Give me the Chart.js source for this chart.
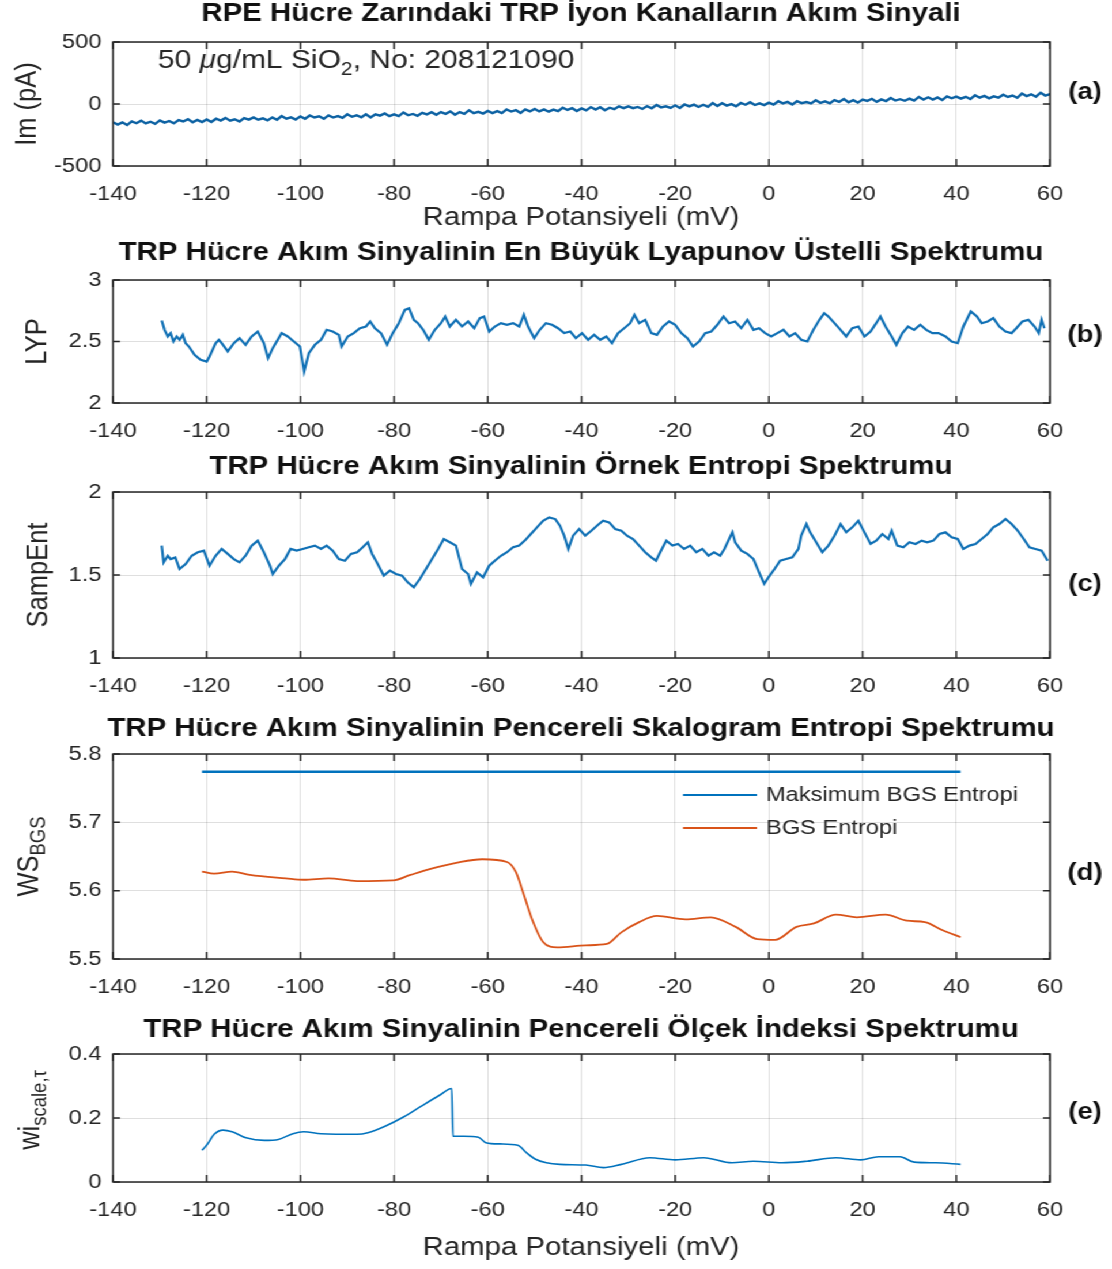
<!DOCTYPE html>
<html>
<head>
<meta charset="utf-8">
<script src="https://cdn.jsdelivr.net/npm/chart.js@4.4.1/dist/chart.umd.min.js"></script>
<style>
  html, body { margin: 0; padding: 0; background: #fff; overflow: hidden; }
  #sheet { position: absolute; left: 0; top: 0; height: 1269px; transform-origin: 0 0; }
</style>
</head>
<body>
<div id="sheet"></div>
<script>
// the reference figure is stretched sideways, so the page is drawn narrow and scaled in x
const PAGE_W = 965;
const SX = 1112 / PAGE_W;
const ux = v => v / SX;

// ---- data ----
const xMin = -140, xMax = 60, xStep = 20;

// (a) membrane current, one sample per mV starting at -140
const imStart = -140;
const imValues = [
  -147, -166, -148, -170, -140, -155, -134, -157, -143, -160,
  -132, -150, -137, -156, -130, -141, -122, -147, -128, -146,
  -125, -145, -119, -134, -112, -135, -123, -141, -113, -126,
  -108, -127, -116, -132, -108, -127, -97, -119, -108, -125,
  -100, -119, -93, -109, -99, -120, -92, -109, -98, -112,
  -83, -103, -91, -107, -83, -109, -84, -94, -76, -98,
  -83, -98, -68, -91, -80, -95, -71, -84, -66, -87,
  -65, -79, -60, -87, -65, -79, -50, -74, -63, -77,
  -56, -73, -58, -74, -44, -61, -50, -72, -44, -60,
  -40, -60, -44, -62, -45, -58, -30, -48, -34, -57,
  -36, -52, -25, -45, -26, -51, -30, -42, -19, -34,
  -19, -34, -24, -40, -17, -34, -8, -27, -19, -32,
  -11, -32, -4, -19, -5, -24, -6, -23, 7, -16,
  6, -13, -1, -19, 8, -6, 14, -8, 5, -9,
  11, -5, 22, 5, 17, -4, 22, 7, 16, 5,
  30, 9, 21, 6, 31, 17, 40, 14, 31, 11,
  36, 25, 42, 17, 37, 24, 49, 28, 39, 26,
  43, 27, 57, 36, 54, 35, 53, 32, 61, 46,
  60, 43, 58, 40, 70, 51, 65, 46, 62, 51,
  75, 57, 68, 50, 84, 64, 78, 59, 91, 68, 79
];

// (b) largest Lyapunov exponent
const lypX = [-129.6, -129.0, -128.3, -127.7, -127.1, -126.4, -125.8, -125.1, -124.5, -123.8,
  -122.6, -121.3, -120.0, -119.4, -118.1, -117.4, -116.8, -115.5, -114.2, -113.0,
  -111.7, -110.4, -109.1, -107.8, -106.9, -105.9, -104.0, -102.7, -101.4, -100.1,
  -99.2, -98.2, -96.9, -95.6, -94.4, -93.1, -91.8, -91.2, -89.9, -88.6,
  -87.3, -86.0, -85.1, -84.1, -82.8, -81.5, -80.3, -79.0, -77.7, -76.8,
  -75.8, -74.9, -73.8, -72.6, -71.3, -70.0, -69.1, -68.1, -66.8, -65.5,
  -64.2, -62.9, -61.7, -60.8, -59.7, -58.5, -57.2, -55.9, -54.6, -53.3,
  -52.3, -51.4, -50.1, -48.9, -47.6, -46.3, -45.0, -43.7, -42.4, -41.2,
  -39.9, -38.6, -37.3, -36.0, -34.7, -33.5, -32.2, -30.9, -29.6, -28.7,
  -27.7, -26.4, -25.1, -23.9, -22.6, -21.3, -20.0, -18.7, -17.4, -16.2,
  -14.9, -13.6, -12.3, -11.0, -9.7, -8.5, -7.2, -5.9, -4.6, -3.3,
  -2.1, -0.8, 0.5, 1.8, 3.1, 4.4, 5.6, 6.9, 8.2, 9.5,
  10.8, 11.8, 12.7, 14.0, 15.3, 16.5, 17.8, 19.1, 20.4, 21.7,
  22.9, 23.8, 24.9, 26.2, 27.2, 28.5, 29.7, 31.0, 32.3, 33.6,
  34.9, 36.2, 37.7, 39.0, 40.3, 41.5, 43.1, 44.4, 45.4, 46.7,
  47.9, 49.2, 50.5, 51.8, 52.8, 54.1, 55.4, 56.7, 57.6, 58.2, 58.8];
const lypY = [2.671, 2.595, 2.541, 2.568, 2.500, 2.541, 2.514, 2.554, 2.486, 2.459,
  2.392, 2.351, 2.337, 2.378, 2.486, 2.514, 2.486, 2.419, 2.486, 2.527,
  2.473, 2.541, 2.581, 2.486, 2.364, 2.446, 2.568, 2.541, 2.500, 2.459,
  2.256, 2.405, 2.473, 2.514, 2.595, 2.581, 2.554, 2.459, 2.541, 2.568,
  2.608, 2.622, 2.663, 2.608, 2.568, 2.473, 2.568, 2.649, 2.757, 2.771,
  2.676, 2.649, 2.595, 2.514, 2.595, 2.649, 2.703, 2.622, 2.676, 2.622,
  2.663, 2.608, 2.690, 2.703, 2.581, 2.622, 2.649, 2.636, 2.649, 2.622,
  2.717, 2.622, 2.527, 2.595, 2.649, 2.636, 2.608, 2.568, 2.581, 2.527,
  2.568, 2.514, 2.554, 2.514, 2.541, 2.486, 2.568, 2.608, 2.649, 2.717,
  2.649, 2.676, 2.568, 2.554, 2.622, 2.663, 2.636, 2.568, 2.527, 2.459,
  2.500, 2.568, 2.581, 2.636, 2.703, 2.649, 2.663, 2.608, 2.676, 2.595,
  2.608, 2.568, 2.541, 2.568, 2.595, 2.541, 2.568, 2.514, 2.500, 2.595,
  2.676, 2.730, 2.703, 2.649, 2.595, 2.541, 2.608, 2.622, 2.541, 2.581,
  2.649, 2.703, 2.622, 2.541, 2.473, 2.568, 2.622, 2.595, 2.636, 2.595,
  2.568, 2.568, 2.541, 2.500, 2.486, 2.622, 2.744, 2.703, 2.649, 2.663,
  2.690, 2.622, 2.581, 2.568, 2.608, 2.663, 2.676, 2.622, 2.568, 2.676, 2.608];

// (c) sample entropy
const sampX = [-129.6, -129.2, -128.3, -127.7, -126.7, -125.8, -124.5, -123.2, -121.9, -120.6,
  -119.4, -118.1, -116.8, -115.5, -114.2, -113.0, -111.7, -110.4, -109.1, -107.8,
  -106.5, -105.9, -104.6, -103.3, -102.1, -100.8, -99.5, -98.2, -96.9, -95.6,
  -94.4, -93.1, -91.8, -90.5, -89.2, -87.9, -86.7, -85.6, -84.7, -83.5,
  -82.2, -80.9, -79.6, -78.3, -77.1, -75.8, -74.5, -73.2, -71.9, -70.6,
  -69.4, -68.1, -66.8, -65.5, -64.2, -63.6, -62.3, -61.0, -59.7, -58.5,
  -57.2, -55.9, -54.6, -53.3, -52.1, -50.8, -49.5, -48.2, -46.9, -45.6,
  -44.6, -43.7, -42.8, -41.8, -40.5, -39.2, -37.9, -36.7, -35.4, -34.1,
  -32.8, -31.5, -30.3, -29.0, -27.7, -26.4, -25.1, -24.1, -23.2, -21.9,
  -20.6, -19.4, -18.1, -16.8, -15.5, -14.2, -12.9, -11.7, -10.4, -9.5,
  -7.8, -7.2, -5.9, -4.6, -3.3, -2.1, -1.0, -0.1, 1.2, 2.4,
  3.7, 5.0, 6.3, 6.9, 8.0, 8.8, 10.1, 11.4, 12.7, 14.0,
  15.3, 16.5, 17.8, 19.1, 20.4, 21.7, 22.9, 24.2, 25.5, 26.2,
  27.4, 28.7, 30.0, 31.3, 32.6, 33.8, 35.1, 36.4, 37.7, 39.0,
  40.3, 41.5, 42.8, 44.1, 45.4, 46.7, 47.9, 49.2, 50.5, 51.8,
  53.1, 54.4, 55.6, 56.9, 58.2, 59.5];
const sampY = [1.677, 1.576, 1.616, 1.596, 1.606, 1.536, 1.566, 1.616, 1.637, 1.647,
  1.556, 1.616, 1.657, 1.627, 1.596, 1.576, 1.616, 1.677, 1.707, 1.637,
  1.556, 1.506, 1.556, 1.596, 1.657, 1.647, 1.657, 1.667, 1.677, 1.657,
  1.677, 1.647, 1.596, 1.586, 1.627, 1.637, 1.667, 1.697, 1.627, 1.566,
  1.496, 1.526, 1.506, 1.496, 1.456, 1.426, 1.476, 1.536, 1.596, 1.657,
  1.717, 1.697, 1.677, 1.536, 1.506, 1.446, 1.516, 1.486, 1.556, 1.586,
  1.616, 1.637, 1.667, 1.677, 1.707, 1.747, 1.787, 1.827, 1.847, 1.837,
  1.797, 1.737, 1.657, 1.737, 1.777, 1.737, 1.767, 1.797, 1.827, 1.817,
  1.777, 1.767, 1.737, 1.717, 1.677, 1.637, 1.606, 1.586, 1.637, 1.707,
  1.677, 1.687, 1.657, 1.677, 1.637, 1.657, 1.616, 1.637, 1.616, 1.657,
  1.757, 1.697, 1.647, 1.627, 1.596, 1.516, 1.446, 1.486, 1.536, 1.586,
  1.596, 1.606, 1.657, 1.737, 1.807, 1.757, 1.697, 1.637, 1.677, 1.737,
  1.807, 1.757, 1.787, 1.827, 1.757, 1.687, 1.707, 1.747, 1.717, 1.767,
  1.677, 1.667, 1.697, 1.687, 1.707, 1.697, 1.707, 1.747, 1.757, 1.727,
  1.717, 1.657, 1.677, 1.687, 1.717, 1.747, 1.787, 1.807, 1.837, 1.807,
  1.767, 1.717, 1.667, 1.657, 1.647, 1.586];

// (d) windowed scalogram entropy
const bgsMaxX = [-121, 40.9];
const bgsMaxY = [5.774, 5.774];
const bgsX = [-121, -118.4, -114.6, -110.8, -103.1, -99.3, -94, -87.9, -80.2, -76.5,
  -72.6, -66.5, -61.2, -55.9, -54, -52.5, -50.6, -48.2, -45.2, -39.1,
  -34.6, -31.5, -27.7, -23.9, -17.8, -12.4, -7.1, -2.5, 1.3, 5.9,
  9.6, 14.3, 18.8, 24.9, 29.5, 33.3, 37.1, 40.9];
const bgsY = [5.628, 5.625, 5.628, 5.623, 5.618, 5.616, 5.618, 5.614, 5.615, 5.623,
  5.631, 5.641, 5.646, 5.642, 5.627, 5.598, 5.559, 5.525, 5.517, 5.520,
  5.522, 5.539, 5.554, 5.563, 5.558, 5.561, 5.547, 5.529, 5.528, 5.547,
  5.552, 5.565, 5.561, 5.565, 5.556, 5.554, 5.542, 5.532];

// (e) windowed scale index
const wiX = [-121, -119.9, -118.4, -116.5, -114.6, -111.6, -107.7, -104.7, -101.6, -99.3,
  -95.6, -87.9, -85.6, -81.8, -78, -74.2, -70.3, -67.7, -67.45, -65.1,
  -62, -60.4, -57.4, -53.6, -51.7, -49.8, -47.5, -44.6, -39.1, -35.3,
  -31.5, -25.4, -20, -13.9, -7.9, -3.3, 2.8, 8.1, 14.3, 19.6,
  23.4, 28, 31, 35.6, 40.9];
const wiY = [0.099, 0.117, 0.149, 0.162, 0.157, 0.138, 0.130, 0.133, 0.151, 0.157,
  0.151, 0.149, 0.154, 0.175, 0.203, 0.237, 0.271, 0.292, 0.143, 0.143,
  0.140, 0.123, 0.119, 0.115, 0.091, 0.071, 0.060, 0.055, 0.053, 0.045,
  0.055, 0.076, 0.069, 0.076, 0.060, 0.065, 0.060, 0.065, 0.076, 0.069,
  0.079, 0.079, 0.062, 0.060, 0.055];

const titles = [
  'RPE Hücre Zarındaki TRP İyon Kanalların Akım Sinyali',
  'TRP Hücre Akım Sinyalinin En Büyük Lyapunov Üstelli Spektrumu',
  'TRP Hücre Akım Sinyalinin Örnek Entropi Spektrumu',
  'TRP Hücre Akım Sinyalinin Pencereli Skalogram Entropi Spektrumu',
  'TRP Hücre Akım Sinyalinin Pencereli Ölçek İndeksi Spektrumu'
];
const letters = ['(a)', '(b)', '(c)', '(d)', '(e)'];
const xLabel = 'Rampa Potansiyeli (mV)';
const legendLabels = ['Maksimum BGS Entropi', 'BGS Entropi'];

// ---- style ----
const FONT = '"Liberation Sans", Arial, Helvetica, sans-serif';
const INK = '#262626';
const BLUE = '#0072BD', ORANGE = '#D95319';
const PLOT_L = 113, PLOT_R = 1050, TICK = 7;
const F_TICK = 20.5, F_LABEL = 25.5, F_SUB = 18.5;

const pts = (xs, ys) => xs.map((x, i) => ({ x, y: ys[i] }));
const big = s => `${s}px ${FONT}`;

function rich(ctx, parts, x, y, align) {
  let w = 0;
  parts.forEach(p => { ctx.font = p.font; w += ctx.measureText(p.t).width; });
  let cx = align === 'center' ? x - w / 2 : x;
  ctx.textAlign = 'left';
  ctx.textBaseline = 'alphabetic';
  parts.forEach(p => {
    ctx.font = p.font;
    ctx.fillText(p.t, cx, y + (p.dy || 0));
    cx += ctx.measureText(p.t).width;
  });
}

const sheet = document.getElementById('sheet');
sheet.style.width = PAGE_W + 'px';
sheet.style.transform = `scaleX(${SX})`;

function panel(p) {
  const top = p.band[0];
  const h = p.band[1] - p.band[0];
  const cv = document.createElement('canvas');
  cv.width = PAGE_W;
  cv.height = h;
  cv.style.cssText = `position:absolute;left:0;top:${top}px;width:${PAGE_W}px;height:${h}px`;
  sheet.appendChild(cv);

  const deco = {
    id: 'deco',
    afterDraw(chart) {
      const { ctx, chartArea: a, scales } = chart;
      ctx.save();
      // box and inward ticks, matlab style
      ctx.strokeStyle = INK;
      ctx.lineWidth = 1.5;
      ctx.strokeRect(a.left, a.top, a.right - a.left, a.bottom - a.top);
      ctx.beginPath();
      scales.x.ticks.forEach(t => {
        const px = scales.x.getPixelForValue(t.value);
        ctx.moveTo(px, a.bottom); ctx.lineTo(px, a.bottom - TICK);
        ctx.moveTo(px, a.top); ctx.lineTo(px, a.top + TICK);
      });
      scales.y.ticks.forEach(t => {
        const py = scales.y.getPixelForValue(t.value);
        ctx.moveTo(a.left, py); ctx.lineTo(a.left + ux(TICK), py);
        ctx.moveTo(a.right, py); ctx.lineTo(a.right - ux(TICK), py);
      });
      ctx.stroke();

      // title
      ctx.fillStyle = '#111';
      ctx.textAlign = 'center';
      ctx.textBaseline = 'middle';
      ctx.font = `bold ${F_LABEL}px ${FONT}`;
      ctx.fillText(p.title, ux(581), p.titleY - top);
      // panel letter
      ctx.font = `bold 24px ${FONT}`;
      ctx.fillText(p.letter, ux(1085), p.letterY - top);
      // x label
      ctx.fillStyle = INK;
      if (p.xLabelY) {
        ctx.font = big(F_LABEL);
        ctx.fillText(xLabel, ux(581), p.xLabelY - top);
      }
      // y label, rotated
      ctx.save();
      ctx.translate(ux(p.yLabelX), (a.top + a.bottom) / 2 + (p.yLabelShift || 0));
      ctx.rotate(-Math.PI / 2);
      rich(ctx, p.yLabel, 0, 8, 'center');
      ctx.restore();

      if (p.extra) p.extra(ctx, a, top);
      ctx.restore();
    }
  };

  new Chart(cv, {
    type: 'line',
    data: { datasets: p.datasets },
    options: {
      responsive: false,
      animation: false,
      devicePixelRatio: 1,
      layout: { padding: { left: 0, right: ux(1112 - PLOT_R), top: p.plot[0] - top, bottom: 0 } },
      plugins: { legend: { display: false }, tooltip: { enabled: false } },
      elements: { point: { radius: 0 } },
      scales: {
        x: {
          type: 'linear', min: xMin, max: xMax,
          ticks: { stepSize: xStep, padding: 16, color: INK, font: { family: FONT, size: F_TICK },
            maxRotation: 0, autoSkip: false, callback: v => String(v) },
          grid: { color: 'rgba(38,38,38,0.15)', lineWidth: 1, drawTicks: false },
          border: { display: false },
          afterFit: s => { s.height = p.band[1] - p.plot[1]; }
        },
        y: {
          type: 'linear', min: p.y[0], max: p.y[1],
          ticks: { stepSize: p.y[2], padding: 10, color: INK, font: { family: FONT, size: F_TICK },
            callback: v => String(+v.toFixed(2)) },
          grid: { color: 'rgba(38,38,38,0.15)', lineWidth: 1, drawTicks: false },
          border: { display: false },
          afterFit: s => { s.width = ux(PLOT_L); }
        }
      }
    },
    plugins: [deco]
  });
}

panel({
  band: [0, 236], plot: [42, 166], y: [-500, 500, 500],
  title: titles[0], titleY: 14, letter: letters[0], letterY: 92, xLabelY: 218,
  yLabel: [{ t: 'Im (pA)', font: big(F_LABEL) }], yLabelX: 27,
  datasets: [{ data: imValues.map((v, i) => ({ x: imStart + i, y: v })), borderColor: '#0d62a3', borderWidth: 2.4, tension: 0 }],
  extra(ctx, a, top) {
    ctx.fillStyle = INK;
    rich(ctx, [
      { t: '50 ', font: big(26) },
      { t: 'μ', font: `italic 26px ${FONT}` },
      { t: 'g/mL SiO', font: big(26) },
      { t: '2', font: big(F_SUB), dy: 7 },
      { t: ', No: 208121090', font: big(26) }
    ], ux(158), 68 - top, 'left');
  }
});

panel({
  band: [236, 448], plot: [280, 403], y: [2, 3, 0.5],
  title: titles[1], titleY: 253, letter: letters[1], letterY: 335,
  yLabel: [{ t: 'LYP', font: big(F_LABEL) }], yLabelX: 37,
  datasets: [{ data: pts(lypX, lypY), borderColor: '#1070b5', borderWidth: 2.2, tension: 0 }]
});

panel({
  band: [448, 700], plot: [492, 658], y: [1, 2, 0.5],
  title: titles[2], titleY: 467, letter: letters[2], letterY: 584,
  yLabel: [{ t: 'SampEnt', font: big(F_LABEL) }], yLabelX: 38,
  datasets: [{ data: pts(sampX, sampY), borderColor: '#1070b5', borderWidth: 2.2, tension: 0 }]
});

panel({
  band: [700, 1000], plot: [754, 959], y: [5.5, 5.8, 0.1],
  title: titles[3], titleY: 729, letter: letters[3], letterY: 873,
  yLabel: [{ t: 'WS', font: big(F_LABEL) }, { t: 'BGS', font: big(F_SUB), dy: 6 }], yLabelX: 29,
  datasets: [
    { data: pts(bgsMaxX, bgsMaxY), borderColor: BLUE, borderWidth: 2.4, tension: 0 },
    { data: pts(bgsX, bgsY), borderColor: ORANGE, borderWidth: 1.8, cubicInterpolationMode: 'monotone' }
  ],
  extra(ctx, a, top) {
    const rows = [[795, BLUE], [828, ORANGE]];
    rows.forEach(([yy, col], i) => {
      ctx.strokeStyle = col;
      ctx.lineWidth = 1.8;
      ctx.beginPath();
      ctx.moveTo(ux(683), yy - top);
      ctx.lineTo(ux(757), yy - top);
      ctx.stroke();
      ctx.fillStyle = INK;
      ctx.font = big(F_TICK);
      ctx.textAlign = 'left';
      ctx.textBaseline = 'middle';
      ctx.fillText(legendLabels[i], ux(766), yy - top);
    });
  }
});

panel({
  band: [1000, 1269], plot: [1054, 1182], y: [0, 0.4, 0.2],
  title: titles[4], titleY: 1030, letter: letters[4], letterY: 1112, xLabelY: 1248,
  yLabel: [{ t: 'wi', font: big(F_LABEL) }, { t: 'scale,τ', font: big(F_SUB), dy: 6 }], yLabelX: 30, yLabelShift: -8,
  datasets: [{ data: pts(wiX, wiY), borderColor: BLUE, borderWidth: 1.6, cubicInterpolationMode: 'monotone' }]
});
</script>
</body>
</html>
